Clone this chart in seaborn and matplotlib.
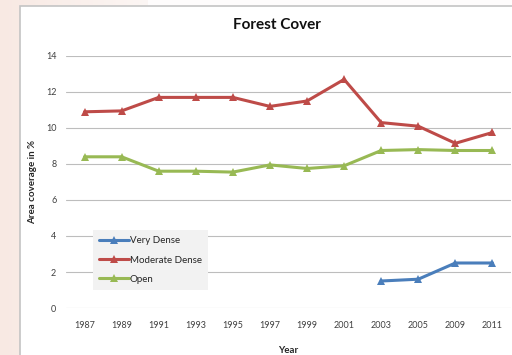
import numpy as np
import pandas as pd
import matplotlib
matplotlib.use("Agg")
import matplotlib.pyplot as plt
import seaborn as sns
from matplotlib.patches import Rectangle
from matplotlib.colors import to_rgb

years = ["1987", "1989", "1991", "1993", "1995", "1997", "1999", "2001",
         "2003", "2005", "2009", "2011"]
very_dense = [None, None, None, None, None, None, None, None, 1.5, 1.6, 2.5, 2.5]
moderate_dense = [10.9, 10.95, 11.7, 11.7, 11.7, 11.2, 11.5, 12.7, 10.3, 10.1, 9.15, 9.75]
open_cover = [8.4, 8.4, 7.6, 7.6, 7.55, 7.95, 7.75, 7.9, 8.75, 8.8, 8.75, 8.75]
series_names = ["Very Dense", "Moderate Dense", "Open"]
colors = ["#4a7ebb", "#be4b48", "#98b954"]

rows = []
for name, vals in zip(series_names, [very_dense, moderate_dense, open_cover]):
    for i, (yr, v) in enumerate(zip(years, vals)):
        if v is not None:
            rows.append({"pos": i, "Year": yr, "value": v, "series": name})
df = pd.DataFrame(rows)

sns.set_style("white")
plt.rcParams["font.family"] = ["Lato", "DejaVu Sans"]

fig = plt.figure(figsize=(5.12, 3.55), dpi=100)

# page background with the pinkish strip at the left
bg = fig.add_axes([0, 0, 1, 1], zorder=-10)
grad = np.ones((355, 512, 3))
c0 = np.array(to_rgb("#f8e9e3"))
c1 = np.array(to_rgb("#fcf6f4"))
for x in range(150):
    t = x / 150
    grad[:, x, :] = c0 * (1 - t) + c1 * t
grad[:, 148:, :] = np.array(to_rgb("#fefcfc"))
bg.imshow(grad, aspect="auto", extent=[0, 512, 355, 0])
bg.add_patch(Rectangle((20, 6), 500, 360, facecolor="white", edgecolor="#c4c4c4", linewidth=1.2))
bg.set_xlim(0, 512)
bg.set_ylim(355, 0)
bg.axis("off")

ax = fig.add_axes([66 / 512, 1 - 308 / 355, 445 / 512, 252 / 355])
ax.set_facecolor("none")

sns.lineplot(data=df, x="pos", y="value", hue="series", hue_order=series_names,
             palette=colors, marker="^", markersize=6, markeredgewidth=0,
             linewidth=2.2, ax=ax)

ax.set_xlim(-0.5, len(years) - 0.5)
ax.set_ylim(0, 14)
ax.set_xticks(range(len(years)))
ax.set_xticklabels(years)
ax.set_yticks(range(0, 15, 2))
ax.tick_params(axis="x", length=0, pad=9, labelsize=6.5, labelcolor="#404040")
ax.tick_params(axis="y", length=0, pad=7, labelsize=6.5, labelcolor="#404040")
ax.yaxis.grid(True, color="#bdbdbd", linewidth=0.8)
ax.set_axisbelow(True)
for s in ax.spines.values():
    s.set_visible(False)

ax.set_xlabel("Year", fontsize=7, fontweight="bold", labelpad=12)
ax.set_ylabel("Area coverage in %", fontsize=7, fontweight="bold", labelpad=6)
fig.text(277 / 512, 1 - 25 / 355, "Forest Cover", ha="center", va="center",
         fontsize=11, fontweight="bold", color="#111111")

leg = ax.legend(loc="lower left", bbox_to_anchor=(0.061, 0.071), fontsize=7,
                frameon=True, fancybox=False, handlelength=3, labelspacing=1.05,
                borderpad=0.65, handletextpad=0.1, borderaxespad=0)
leg.get_frame().set_facecolor("#f2f2f2")
leg.get_frame().set_edgecolor("none")
leg.get_frame().set_alpha(1)

fig.savefig("out.png", dpi=100)
